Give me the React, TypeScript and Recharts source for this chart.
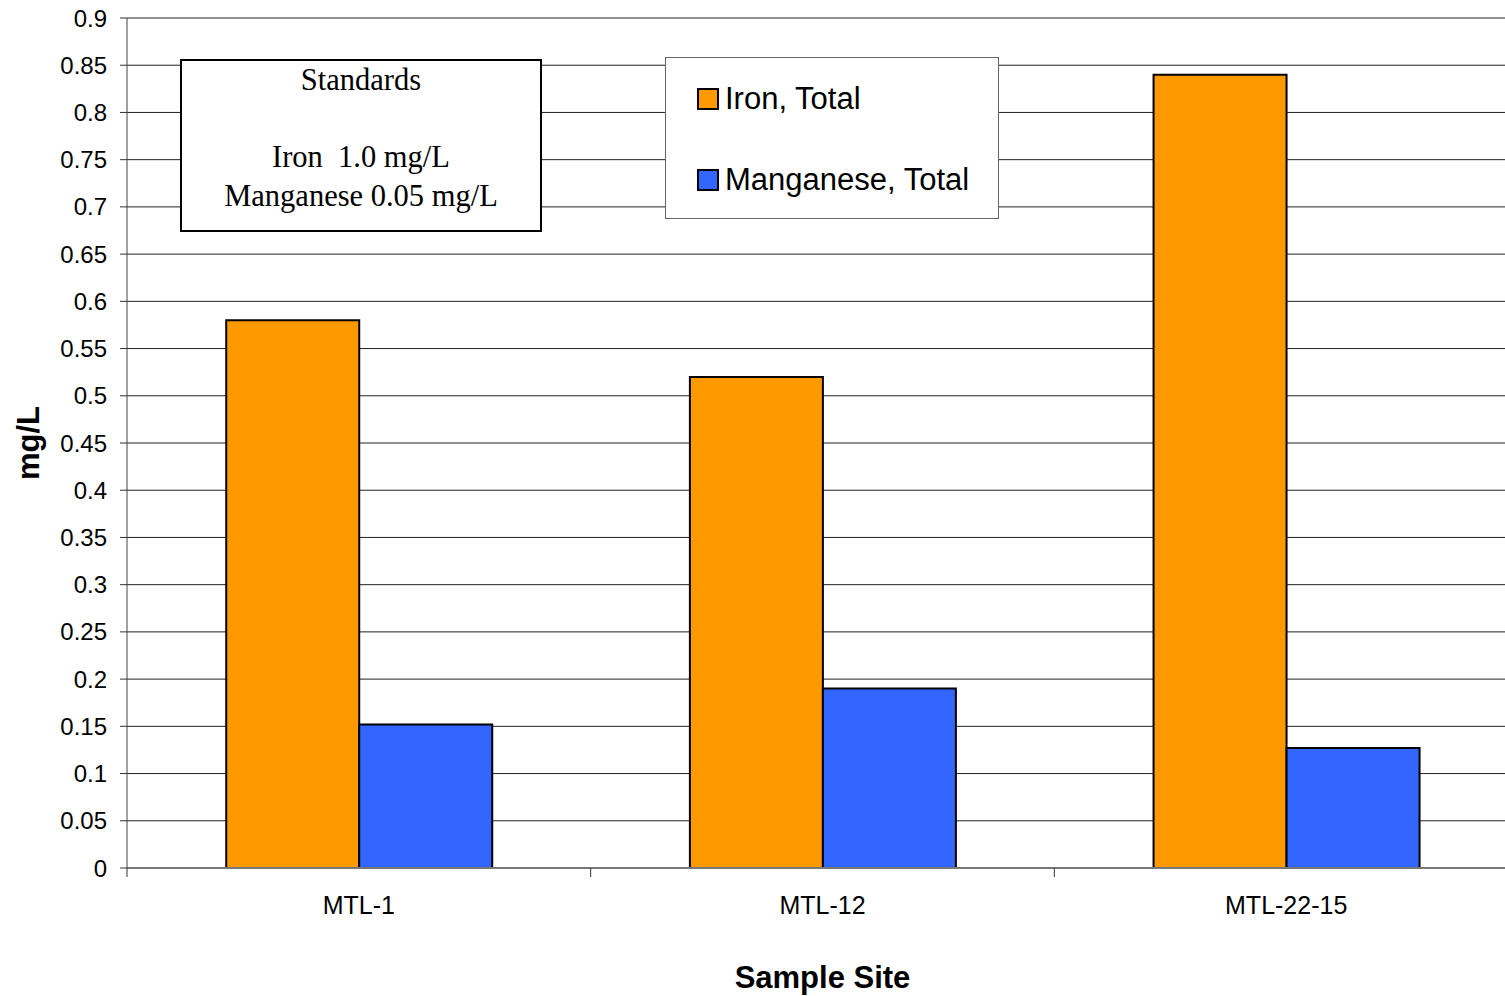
import { BarChart, Bar, XAxis, YAxis, CartesianGrid, Label } from 'recharts';

const SITES = ['MTL-1', 'MTL-12', 'MTL-22-15'];
const IRON = [0.58, 0.52, 0.84];
const MANGANESE = [0.152, 0.19, 0.127];
const Y_TICKS = [0, 0.05, 0.1, 0.15, 0.2, 0.25, 0.3, 0.35, 0.4, 0.45, 0.5, 0.55, 0.6, 0.65, 0.7, 0.75, 0.8, 0.85, 0.9];
const SERIES = [
  { key: 'iron', name: 'Iron, Total', color: '#FF9900' },
  { key: 'manganese', name: 'Manganese, Total', color: '#3366FF' },
];

const data = SITES.map((site, i) => ({ site, iron: IRON[i], manganese: MANGANESE[i] }));

const ARIAL = '"Liberation Sans", Arial, sans-serif';
const TIMES = '"Liberation Serif", "Times New Roman", serif';

// category label plus Excel-style tick mark on the left edge of each band
function SiteTick(props: any) {
  const { x, y, payload } = props;
  const half = payload?.offset ?? 231.75;
  return (
    <g>
      <line x1={x - half} x2={x - half} y1={y - 8} y2={y + 1} stroke="#333" strokeWidth={1} />
      <text x={x} y={y + 38} textAnchor="middle" fontFamily={ARIAL} fontSize={25} fill="#000">
        {payload.value}
      </text>
    </g>
  );
}

function SeriesLegend() {
  return (
    <div
      style={{
        position: 'absolute',
        left: 665,
        top: 57,
        width: 334,
        height: 162,
        border: '1px solid #666',
        background: '#fff',
        boxSizing: 'border-box',
        paddingLeft: 31,
        paddingTop: 29,
        fontFamily: ARIAL,
        fontSize: 31,
        color: '#000',
      }}
    >
      {SERIES.map((s, i) => (
        <div key={s.key} style={{ display: 'flex', alignItems: 'center', height: 24, marginBottom: i === 0 ? 57 : 0 }}>
          <span
            style={{
              width: 18,
              height: 18,
              background: s.color,
              border: '2px solid #000',
              marginRight: 6,
              display: 'inline-block',
              flexShrink: 0,
            }}
          />
          <span style={{ whiteSpace: 'nowrap' }}>{s.name}</span>
        </div>
      ))}
    </div>
  );
}

export default function App() {
  return (
    <div style={{ position: 'fixed', left: 0, top: 0, width: 1505, height: 996, overflow: 'hidden', background: '#fff' }}>
      <BarChart
        width={1518}
        height={996}
        data={data}
        margin={{ top: 18, right: 0, bottom: 0, left: 0 }}
        barCategoryGap="21.4%"
        barGap={0}
      >
        <CartesianGrid vertical={false} stroke="#222" strokeWidth={1} />
        <XAxis
          dataKey="site"
          axisLine={{ stroke: '#777', strokeWidth: 2 }}
          tickLine={false}
          tick={<SiteTick />}
          interval={0}
          height={128}
        >
          <Label
            value="Sample Site"
            position="insideBottom"
            offset={8}
            style={{ fontFamily: ARIAL, fontSize: 31, fontWeight: 'bold', fill: '#000' }}
          />
        </XAxis>
        <YAxis
          width={127}
          domain={[0, 0.9]}
          ticks={Y_TICKS}
          interval={0}
          axisLine={{ stroke: '#444', strokeWidth: 1 }}
          tickLine={{ stroke: '#333' }}
          tickSize={7}
          tickMargin={13}
          tick={{ fontFamily: ARIAL, fontSize: 24, fill: '#000' }}
        >
          <Label
            value="mg/L"
            angle={-90}
            position="insideLeft"
            offset={28}
            style={{ fontFamily: ARIAL, fontSize: 31, fontWeight: 'bold', fill: '#000', textAnchor: 'middle' }}
          />
        </YAxis>
        {SERIES.map((s) => (
          <Bar
            key={s.key}
            dataKey={s.key}
            name={s.name}
            fill={s.color}
            stroke="#000"
            strokeWidth={2}
            isAnimationActive={false}
          />
        ))}
      </BarChart>
      <SeriesLegend />
      <div
        style={{
          position: 'absolute',
          left: 180,
          top: 59,
          width: 362,
          height: 173,
          border: '2px solid #000',
          boxSizing: 'border-box',
          background: '#fff',
          fontFamily: TIMES,
          fontSize: 30.5,
          color: '#000',
          textAlign: 'center',
          lineHeight: '39px',
          paddingTop: 0,
        }}
      >
        <div>Standards</div>
        <div style={{ height: 38 }} />
        <div style={{ whiteSpace: 'pre' }}>Iron  1.0 mg/L</div>
        <div>Manganese 0.05 mg/L</div>
      </div>
    </div>
  );
}
